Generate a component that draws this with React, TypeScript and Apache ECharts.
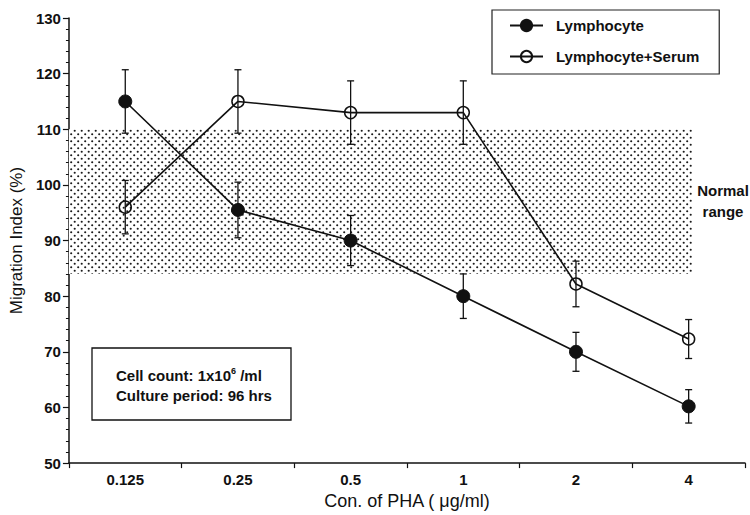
import React, { useEffect, useRef } from "react";
import * as echarts from "echarts";

const categories = ["0.125", "0.25", "0.5", "1", "2", "4"];
const lymphMean = [115, 95.5, 90, 80, 70, 60.2];
const lymphErr = [5.7, 5, 4.5, 4, 3.5, 3];
const serumMean = [96, 115, 113, 113, 82.2, 72.3];
const serumErr = [4.8, 5.7, 5.7, 5.7, 4.1, 3.5];
const normalRange = [84, 110];
const yTicks = { min: 50, max: 130, interval: 10 };

const FONT = "'Liberation Sans', Arial, Helvetica, sans-serif";

function makePattern() {
  const c = document.createElement("canvas");
  c.width = 7;
  c.height = 7;
  const ctx = c.getContext("2d")!;
  ctx.fillStyle = "#ffffff";
  ctx.fillRect(0, 0, 7, 7);
  ctx.fillStyle = "#1a1a1a";
  ctx.beginPath();
  ctx.arc(1.2, 1.2, 1.05, 0, Math.PI * 2);
  ctx.fill();
  ctx.beginPath();
  ctx.arc(4.7, 4.7, 1.05, 0, Math.PI * 2);
  ctx.fill();
  return { image: c.toDataURL(), repeat: "repeat", imageWidth: 7, imageHeight: 7 };
}

export default function App() {
  const ref = useRef<HTMLDivElement>(null);
  useEffect(() => {
    if (!ref.current) return;
    const chart = echarts.init(ref.current, null, { renderer: "svg" });
    const errData = (mean: number[], err: number[]) =>
      mean.map((m, i) => [i, m - err[i], m + err[i]]);
    const errSeries = (name: string, mean: number[], err: number[]) => ({
      type: "custom",
      name,
      xAxisIndex: 0,
      yAxisIndex: 0,
      z: 3,
      data: errData(mean, err),
      renderItem: (params: any, api: any) => {
        const x = api.value(0);
        const lo = api.coord([x, api.value(1)]);
        const hi = api.coord([x, api.value(2)]);
        const w = 3.5;
        const st = { stroke: "#111", lineWidth: 1.3 };
        return {
          type: "group",
          children: [
            { type: "line", shape: { x1: lo[0], y1: lo[1], x2: hi[0], y2: hi[1] }, style: st },
            { type: "line", shape: { x1: lo[0] - w, y1: lo[1], x2: lo[0] + w, y2: lo[1] }, style: st },
            { type: "line", shape: { x1: hi[0] - w, y1: hi[1], x2: hi[0] + w, y2: hi[1] }, style: st },
          ],
        };
      },
    });
    const option: any = {
      animation: false,
      backgroundColor: "#ffffff",
      textStyle: { fontFamily: FONT },
      grid: { left: 63, right: 5, top: 18, bottom: 50 },
      legend: {
        data: ["Lymphocyte", "Lymphocyte+Serum"],
        orient: "vertical",
        left: 492,
        top: 10,
        padding: [8, 20, 10, 17],
        itemGap: 16,
        itemWidth: 33,
        itemHeight: 14,
        borderColor: "#222",
        borderWidth: 1.2,
        backgroundColor: "#fff",
        textStyle: { fontFamily: FONT, fontWeight: "bold", fontSize: 15, color: "#111", padding: [0, 0, 0, 8] },
      },
      xAxis: [
        {
          type: "category",
          data: categories,
          boundaryGap: true,
          name: "Con. of PHA ( \u03bcg/ml)",
          nameLocation: "middle",
          nameGap: 27,
          nameTextStyle: { fontFamily: FONT, fontSize: 18, color: "#111" },
          axisLine: { lineStyle: { color: "#111", width: 1.5 } },
          axisTick: { show: true, length: 5, lineStyle: { color: "#111", width: 1.2 } },
          axisLabel: { fontFamily: FONT, fontWeight: "bold", fontSize: 15, color: "#111", margin: 9 },
          splitLine: { show: false },
        },
        {
          type: "value",
          min: 0,
          max: 6,
          show: false,
        },
      ],
      yAxis: {
        type: "value",
        min: yTicks.min,
        max: yTicks.max,
        interval: yTicks.interval,
        name: "Migration Index (%)",
        nameLocation: "middle",
        nameGap: 42,
        nameTextStyle: { fontFamily: FONT, fontSize: 17, color: "#111" },
        axisLine: { show: true, lineStyle: { color: "#111", width: 1.5 } },
        axisTick: { show: true, length: 6, lineStyle: { color: "#111", width: 1.2 } },
        minorTick: { show: true, splitNumber: 5, length: 3, lineStyle: { color: "#111", width: 1 } },
        axisLabel: { fontFamily: FONT, fontWeight: "bold", fontSize: 15, color: "#111", margin: 8 },
        splitLine: { show: false },
      },
      series: [
        {
          type: "line",
          name: "band",
          xAxisIndex: 1,
          yAxisIndex: 0,
          data: [],
          silent: true,
          z: 1,
          markArea: {
            silent: true,
            itemStyle: { color: makePattern() },
            data: [[{ xAxis: 0, yAxis: normalRange[0] }, { xAxis: 5.53, yAxis: normalRange[1] }]],
          },
        },
        errSeries("lymErr", lymphMean, lymphErr),
        errSeries("serErr", serumMean, serumErr),
        {
          type: "line",
          name: "Lymphocyte",
          data: lymphMean,
          z: 5,
          symbol: "circle",
          symbolSize: 13,
          lineStyle: { color: "#111", width: 1.6 },
          itemStyle: { color: "#111", borderColor: "#111", borderWidth: 1 },
        },
        {
          type: "line",
          name: "Lymphocyte+Serum",
          data: serumMean,
          z: 5,
          symbol: "circle",
          symbolSize: 12,
          lineStyle: { color: "#111", width: 1.6 },
          itemStyle: { color: "rgba(255,255,255,0)", borderColor: "#111", borderWidth: 1.5 },
        },
      ],
      graphic: [
        {
          type: "text",
          x: 723,
          y: 180,
          style: {
            text: "Normal\nrange",
            align: "center",
            verticalAlign: "top",
            font: `bold 15px ${FONT}`,
            fill: "#111",
            lineHeight: 21,
          },
        },
        {
          type: "group",
          x: 92,
          y: 348,
          children: [
            {
              type: "rect",
              shape: { x: 0, y: 0, width: 199, height: 72 },
              style: { fill: "#fff", stroke: "#111", lineWidth: 1.3 },
            },
            {
              type: "text",
              x: 24,
              y: 27,
              style: {
                text: "{a|Cell count: 1x10}{s|6}{a| /ml}",
                verticalAlign: "middle",
                fill: "#111",
                rich: {
                  a: { font: `bold 15px ${FONT}`, lineHeight: 18, fill: "#111" },
                  s: { font: `bold 9px ${FONT}`, lineHeight: 12, verticalAlign: "top", fill: "#111" },
                },
              },
            },
            {
              type: "text",
              x: 24,
              y: 47,
              style: {
                text: "Culture period: 96 hrs",
                verticalAlign: "middle",
                font: `bold 15px ${FONT}`,
                fill: "#111",
              },
            },
          ],
        },
      ],
    };
    chart.setOption(option);
    return () => chart.dispose();
  }, []);
  return (
    <div
      ref={ref}
      style={{ position: "fixed", left: 0, top: 0, width: 750, height: 515, background: "#fff" }}
    />
  );
}
